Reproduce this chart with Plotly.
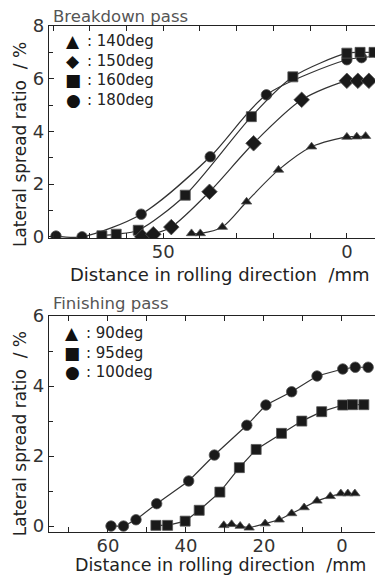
import plotly.graph_objects as go

# ---------------- Data ----------------
# Breakdown pass (top)
bd_140_x = [42.3, 39.9, 33.9, 27.3, 18.6, 9.6, 0.0, -2.7, -5.1]
bd_140_y = [0.13, 0.13, 0.37, 1.33, 2.54, 3.42, 3.79, 3.80, 3.82]
bd_150_x = [55.7, 52.7, 47.8, 37.4, 25.4, 12.3, 0.0, -3.0, -6.0]
bd_150_y = [0.00, 0.10, 0.37, 1.71, 3.55, 5.20, 5.92, 5.92, 5.92]
bd_160_x = [66.7, 62.8, 56.8, 44.0, 26.0, 14.7, 0.0, -3.6, -7.4]
bd_160_y = [0.04, 0.10, 0.25, 1.58, 4.56, 6.07, 6.97, 7.00, 7.00]
bd_180_x = [79.2, 72.1, 56.0, 37.2, 21.9, 0.0, -4.0, -9.0]
bd_180_y = [0.03, 0.00, 0.86, 3.04, 5.39, 6.72, 6.80, 6.87]

# Finishing pass (bottom)
fp_90_x = [30.3, 28.3, 26.1, 23.8, 19.7, 16.1, 12.9, 9.7, 6.4, 3.0, 0.3, -1.5, -3.3]
fp_90_y = [0.02, 0.05, 0.00, -0.05, 0.07, 0.18, 0.36, 0.53, 0.72, 0.85, 0.93, 0.93, 0.93]
fp_95_x = [47.7, 44.7, 40.2, 36.6, 31.3, 26.3, 22.0, 15.5, 10.3, 5.2, -0.2, -2.7, -5.6]
fp_95_y = [0.02, 0.02, 0.14, 0.45, 0.97, 1.67, 2.19, 2.65, 3.00, 3.27, 3.46, 3.47, 3.47]
fp_100_x = [59.2, 56.0, 52.8, 47.5, 39.3, 32.7, 24.4, 19.5, 12.9, 6.4, -0.2, -3.4, -6.7]
fp_100_y = [0.00, 0.00, 0.18, 0.64, 1.29, 2.03, 2.88, 3.46, 3.84, 4.29, 4.49, 4.54, 4.54]

top_symbols = ["▲", "◆", "■", "●"]
top_names = [": 140deg", ": 150deg", ": 160deg", ": 180deg"]
bot_symbols = ["▲", "■", "●"]
bot_names = [": 90deg", ": 95deg", ": 100deg"]
top_xticks = [50, 0]
bot_xticks = [60, 40, 20, 0]

FONT = "DejaVu Sans, Liberation Sans, sans-serif"
LINE = "#333333"
MK = "#1a1a1a"

# page offset (default HTML body margin)
OFF = 8
W, H = 375, 567
ML, MR, MT, MB = 41, 2, 18, 43.3

fig = go.Figure()

def add(x, y, sym, size, shape, xa, ya):
    fig.add_trace(go.Scatter(
        x=x, y=y, mode="lines+markers", xaxis=xa, yaxis=ya,
        line=dict(color=LINE, width=1.2, shape=shape, smoothing=0.8 if shape == "spline" else None),
        marker=dict(symbol=sym, size=size, color=MK, line=dict(width=0.8, color="#555")),
        showlegend=False, hoverinfo="x+y"))

add(bd_180_x, bd_180_y, "circle", 10.5, "spline", "x", "y")
add(bd_160_x, bd_160_y, "square", 10, "spline", "x", "y")
add(bd_150_x, bd_150_y, "diamond", 12, "spline", "x", "y")
add(bd_140_x, bd_140_y, "triangle-up", 9, "spline", "x", "y")

add(fp_100_x, fp_100_y, "circle", 10.5, "linear", "x2", "y2")
add(fp_95_x, fp_95_y, "square", 10, "linear", "x2", "y2")
add(fp_90_x, fp_90_y, "triangle-up", 9, "linear", "x2", "y2")

axis_common = dict(showline=True, linecolor="#222", linewidth=1.2, mirror="ticks",
                   ticks="inside", ticklen=5, tickwidth=1, tickcolor="#222",
                   showgrid=False, zeroline=False, automargin=False,
                   tickfont=dict(family=FONT, size=18, color="#333"))

plot_h = H - MT - MB

def py(pix):
    return 1 - (pix - OFF - MT) / plot_h

def px(pix):
    return (pix - OFF - ML) / (W - ML - MR)

top_bottom = py(238.3)
bot_top = py(316)

fig.update_layout(
    template="none",
    width=W, height=H,
    margin=dict(l=ML, r=MR, t=MT, b=MB),
    paper_bgcolor="white", plot_bgcolor="white",
    font=dict(family=FONT, color="#222"),
    xaxis=dict(domain=[0, 1], anchor="y", range=[81.1, -9.3],
               tickmode="array", tickvals=top_xticks, ticklabelstandoff=-3,
               minor=dict(dtick=10, tick0=0, ticks="inside", ticklen=5, tickcolor="#222"),
               **axis_common),
    yaxis=dict(domain=[top_bottom, 1], anchor="x", range=[-0.06, 8],
               tickmode="array", tickvals=[0, 2, 4, 6, 8],
               minor=dict(dtick=1, tick0=0, ticks="inside", ticklen=4, tickcolor="#222"),
               **axis_common),
    xaxis2=dict(domain=[0, 1], anchor="y2", range=[75.1, -10],
                tickmode="array", tickvals=bot_xticks, ticklabelstandoff=-3,
                minor=dict(dtick=10, tick0=0, ticks="inside", ticklen=5, tickcolor="#222"),
                **axis_common),
    yaxis2=dict(domain=[0, bot_top], anchor="x2", range=[-0.17, 6],
                tickmode="array", tickvals=[0, 2, 4, 6],
                minor=dict(dtick=1, tick0=0, ticks="inside", ticklen=4, tickcolor="#222"),
                **axis_common),
)

ann = []
# panel titles
ann.append(dict(text="Breakdown pass", x=px(51), y=py(17), xanchor="left", yanchor="middle",
                font=dict(size=16.5, color="#555", family=FONT)))
ann.append(dict(text="Finishing pass", x=px(51), y=py(303), xanchor="left", yanchor="middle",
                font=dict(size=16.5, color="#555", family=FONT)))
# x axis titles
ann.append(dict(text="Distance in rolling direction  /mm", x=px(220), y=py(274.5), xanchor="center",
                yanchor="middle", font=dict(size=18, color="#222", family=FONT)))
ann.append(dict(text="Distance in rolling direction  /mm", x=px(220), y=py(565), xanchor="center",
                yanchor="middle", font=dict(size=17.5, color="#222", family=FONT)))
# y axis titles
ann.append(dict(text="Lateral spread ratio  / %", x=px(20), y=py(145), xanchor="center",
                yanchor="middle", textangle=-90, font=dict(size=17, color="#222", family=FONT)))
ann.append(dict(text="Lateral spread ratio  / %", x=px(20), y=py(434), xanchor="center",
                yanchor="middle", textangle=-90, font=dict(size=17, color="#222", family=FONT)))
# legends
for i, (s, t) in enumerate(zip(top_symbols, top_names)):
    ann.append(dict(text=s, x=px(73), y=py(41 + i * 19.5), xanchor="center", yanchor="middle",
                    font=dict(size=17, color="#111", family="DejaVu Sans")))
    ann.append(dict(text=t, x=px(85), y=py(41 + i * 19.5), xanchor="left", yanchor="middle",
                    font=dict(size=15, color="#222", family=FONT)))
for i, (s, t) in enumerate(zip(bot_symbols, bot_names)):
    ann.append(dict(text=s, x=px(72), y=py(333 + i * 19.5), xanchor="center", yanchor="middle",
                    font=dict(size=17, color="#111", family="DejaVu Sans")))
    ann.append(dict(text=t, x=px(84), y=py(333 + i * 19.5), xanchor="left", yanchor="middle",
                    font=dict(size=15, color="#222", family=FONT)))

for a in ann:
    a.update(xref="paper", yref="paper", showarrow=False)
fig.update_layout(annotations=ann)

fig.write_html("out.html")
